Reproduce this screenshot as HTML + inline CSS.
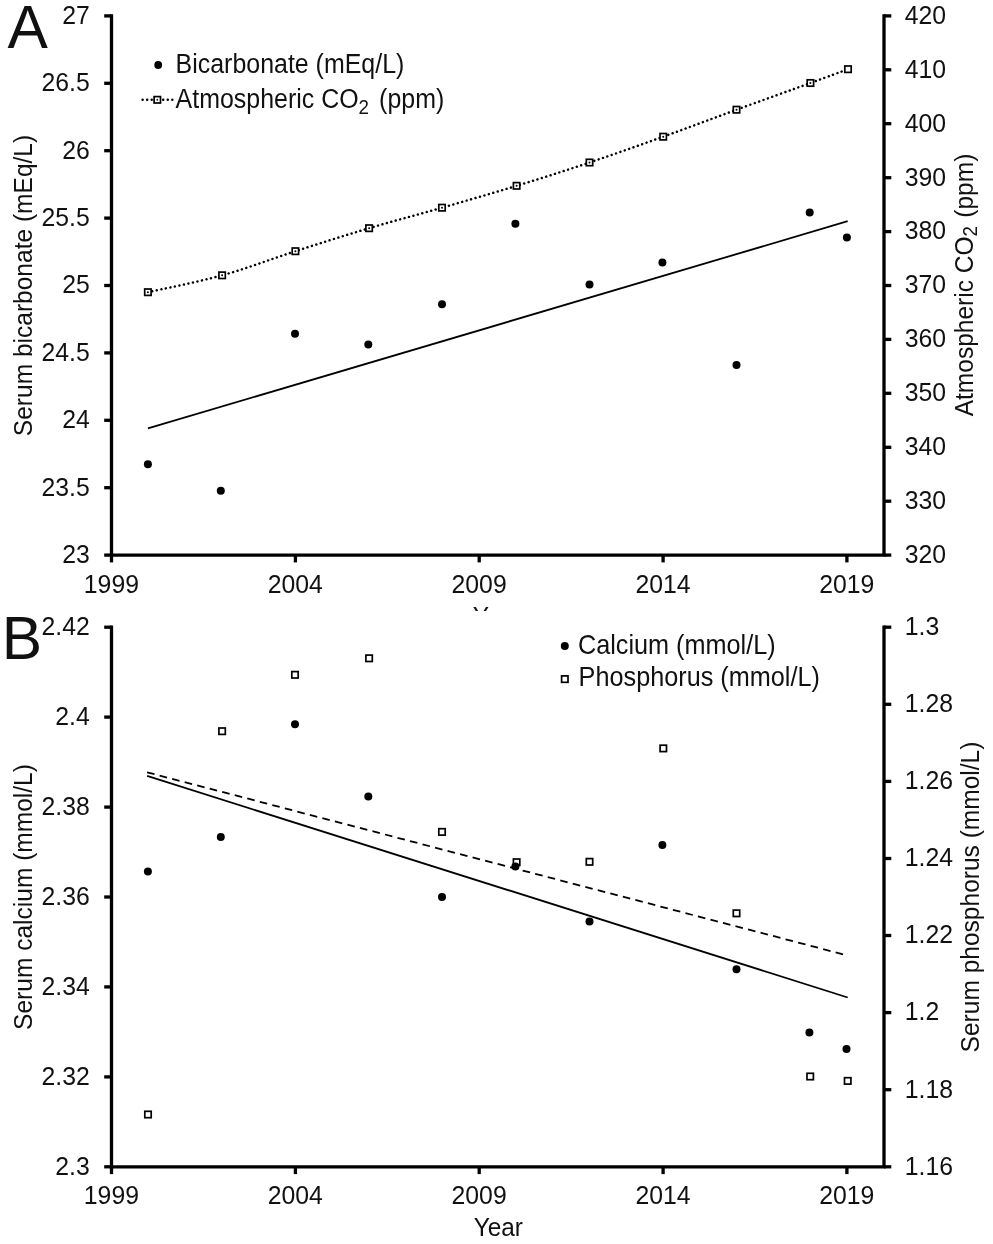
<!DOCTYPE html>
<html lang="en"><head><meta charset="utf-8"><title>Figure</title>
<style>html,body{margin:0;padding:0;background:#fff;}body{width:993px;height:1244px;overflow:hidden;}svg{display:block;}text{font-family:"Liberation Sans",Arial,sans-serif;fill:#111;}.tk{font-size:24.8px}.lg{font-size:24.95px}.tt{font-size:24.55px}.pl{font-size:60.5px}.lb{font-size:25.25px}.yr{font-size:24.4px}.e{text-anchor:end}.m{text-anchor:middle}.ax{stroke:#000;stroke-width:3.3;fill:none;stroke-linecap:butt}.sq{fill:#fff;stroke:#000;stroke-width:1.7}.dot{fill:#000}</style></head><body>
<svg width="993" height="1244" viewBox="0 0 993 1244">
<rect width="993" height="1244" fill="#fff"/>
<path class="ax" d="M111.5 14.2 V555.1 H884.0 V14.2"/>
<path class="ax" d="M104.2 15.9 H111.5"/>
<text class="tk e" transform="translate(89.8 23.7) scale(1 1.075)">27</text>
<path class="ax" d="M104.2 83.3 H111.5"/>
<text class="tk e" transform="translate(89.8 91.1) scale(1 1.075)">26.5</text>
<path class="ax" d="M104.2 150.7 H111.5"/>
<text class="tk e" transform="translate(89.8 158.5) scale(1 1.075)">26</text>
<path class="ax" d="M104.2 218.1 H111.5"/>
<text class="tk e" transform="translate(89.8 225.9) scale(1 1.075)">25.5</text>
<path class="ax" d="M104.2 285.5 H111.5"/>
<text class="tk e" transform="translate(89.8 293.3) scale(1 1.075)">25</text>
<path class="ax" d="M104.2 352.9 H111.5"/>
<text class="tk e" transform="translate(89.8 360.7) scale(1 1.075)">24.5</text>
<path class="ax" d="M104.2 420.3 H111.5"/>
<text class="tk e" transform="translate(89.8 428.1) scale(1 1.075)">24</text>
<path class="ax" d="M104.2 487.7 H111.5"/>
<text class="tk e" transform="translate(89.8 495.5) scale(1 1.075)">23.5</text>
<path class="ax" d="M104.2 555.1 H111.5"/>
<text class="tk e" transform="translate(89.8 562.9) scale(1 1.075)">23</text>
<path class="ax" d="M884.0 15.9 H891.3"/>
<text class="tk" transform="translate(904.8 23.7) scale(1 1.075)">420</text>
<path class="ax" d="M884.0 69.8 H891.3"/>
<text class="tk" transform="translate(904.8 77.6) scale(1 1.075)">410</text>
<path class="ax" d="M884.0 123.7 H891.3"/>
<text class="tk" transform="translate(904.8 131.5) scale(1 1.075)">400</text>
<path class="ax" d="M884.0 177.7 H891.3"/>
<text class="tk" transform="translate(904.8 185.5) scale(1 1.075)">390</text>
<path class="ax" d="M884.0 231.6 H891.3"/>
<text class="tk" transform="translate(904.8 239.4) scale(1 1.075)">380</text>
<path class="ax" d="M884.0 285.5 H891.3"/>
<text class="tk" transform="translate(904.8 293.3) scale(1 1.075)">370</text>
<path class="ax" d="M884.0 339.4 H891.3"/>
<text class="tk" transform="translate(904.8 347.2) scale(1 1.075)">360</text>
<path class="ax" d="M884.0 393.3 H891.3"/>
<text class="tk" transform="translate(904.8 401.1) scale(1 1.075)">350</text>
<path class="ax" d="M884.0 447.3 H891.3"/>
<text class="tk" transform="translate(904.8 455.1) scale(1 1.075)">340</text>
<path class="ax" d="M884.0 501.2 H891.3"/>
<text class="tk" transform="translate(904.8 509.0) scale(1 1.075)">330</text>
<path class="ax" d="M884.0 555.1 H891.3"/>
<text class="tk" transform="translate(904.8 562.9) scale(1 1.075)">320</text>
<path class="ax" d="M111.5 555.1 V562.4"/>
<text class="tk m" transform="translate(111.4 592.7) scale(1 1.075)">1999</text>
<path class="ax" d="M295.4 555.1 V562.4"/>
<text class="tk m" transform="translate(295.2 592.7) scale(1 1.075)">2004</text>
<path class="ax" d="M479.2 555.1 V562.4"/>
<text class="tk m" transform="translate(479.1 592.7) scale(1 1.075)">2009</text>
<path class="ax" d="M663.1 555.1 V562.4"/>
<text class="tk m" transform="translate(663.0 592.7) scale(1 1.075)">2014</text>
<path class="ax" d="M846.9 555.1 V562.4"/>
<text class="tk m" transform="translate(846.8 592.7) scale(1 1.075)">2019</text>
<path d="M147.9 292.2C160.3 289.4 197.5 282.1 222.1 275.3C246.7 268.5 270.9 259.1 295.4 251.2C319.9 243.3 344.7 235.4 369.1 228.2C393.5 220.9 417.4 214.8 442.0 207.7C466.6 200.6 492.0 193.3 516.6 185.8C541.2 178.3 565.1 170.7 589.5 162.5C613.9 154.3 638.7 145.5 663.2 136.7C687.7 127.9 712.0 118.7 736.5 109.7C761.0 100.8 791.8 89.8 810.4 83.0C829.0 76.2 841.7 71.5 848.0 69.2" fill="none" stroke="#000" stroke-width="2.5" stroke-linecap="round" stroke-dasharray="0.01 4.6"/>
<line x1="147.9" y1="428.4" x2="847.7" y2="221.2" stroke="#000" stroke-width="1.8"/>
<rect class="sq" x="144.7" y="289.0" width="6.4" height="6.4"/>
<circle cx="147.9" cy="292.2" r="1.0" class="dot"/>
<rect class="sq" x="218.9" y="272.1" width="6.4" height="6.4"/>
<circle cx="222.1" cy="275.3" r="1.0" class="dot"/>
<rect class="sq" x="292.2" y="248.0" width="6.4" height="6.4"/>
<circle cx="295.4" cy="251.2" r="1.0" class="dot"/>
<rect class="sq" x="365.9" y="225.0" width="6.4" height="6.4"/>
<circle cx="369.1" cy="228.2" r="1.0" class="dot"/>
<rect class="sq" x="438.8" y="204.5" width="6.4" height="6.4"/>
<circle cx="442.0" cy="207.7" r="1.0" class="dot"/>
<rect class="sq" x="513.4" y="182.6" width="6.4" height="6.4"/>
<circle cx="516.6" cy="185.8" r="1.0" class="dot"/>
<rect class="sq" x="586.3" y="159.3" width="6.4" height="6.4"/>
<circle cx="589.5" cy="162.5" r="1.0" class="dot"/>
<rect class="sq" x="660.0" y="133.5" width="6.4" height="6.4"/>
<circle cx="663.2" cy="136.7" r="1.0" class="dot"/>
<rect class="sq" x="733.3" y="106.5" width="6.4" height="6.4"/>
<circle cx="736.5" cy="109.7" r="1.0" class="dot"/>
<rect class="sq" x="807.2" y="79.8" width="6.4" height="6.4"/>
<circle cx="810.4" cy="83.0" r="1.0" class="dot"/>
<rect class="sq" x="844.8" y="66.0" width="6.4" height="6.4"/>
<circle class="dot" cx="147.9" cy="464.2" r="4"/>
<circle class="dot" cx="220.8" cy="490.8" r="4"/>
<circle class="dot" cx="295.0" cy="333.7" r="4"/>
<circle class="dot" cx="368.3" cy="344.6" r="4"/>
<circle class="dot" cx="442.0" cy="304.3" r="4"/>
<circle class="dot" cx="515.4" cy="223.7" r="4"/>
<circle class="dot" cx="589.5" cy="284.5" r="4"/>
<circle class="dot" cx="662.4" cy="262.4" r="4"/>
<circle class="dot" cx="736.5" cy="365.1" r="4"/>
<circle class="dot" cx="809.7" cy="212.5" r="4"/>
<circle class="dot" cx="846.9" cy="237.5" r="4"/>
<circle class="dot" cx="158.2" cy="65.0" r="3.9"/>
<text class="lg" transform="translate(175.6 72.8) scale(1 1.075)">Bicarbonate (mEq/L)</text>
<path d="M142.6 99.8H152.2M163.2 99.8H172.8" stroke="#000" stroke-width="2.5" stroke-linecap="round" stroke-dasharray="0.01 4.55" fill="none"/>
<rect class="sq" x="154.1" y="96.6" width="6.4" height="6.4"/><circle cx="157.3" cy="99.8" r="0.9" class="dot"/>
<text class="lg" transform="translate(175.6 107.6) scale(1 1.075)">Atmospheric CO<tspan font-size="18.8" dy="5.7">2</tspan><tspan dy="-5.7" dx="3.2"> (ppm)</tspan></text>
<text class="tt m" transform="translate(32.0 285.5) rotate(-90) scale(1 1.075)">Serum bicarbonate (mEq/L)</text>
<text class="tt m" transform="translate(972.7 285.0) rotate(-90) scale(1 1.075)">Atmospheric CO<tspan font-size="18.8" dy="4.4">2</tspan><tspan dy="-4.4" dx="1.4"> (ppm)</tspan></text>
<svg x="460" y="600" width="80" height="10.9" viewBox="0 0 80 10.9" overflow="hidden"><text class="yr m" transform="translate(37.3 24.6) scale(1 1.075)">Year</text></svg>
<text class="pl" transform="translate(7.5 48.4) scale(1 1.000)">A</text>
<text class="pl" transform="translate(1.7 658.7) scale(1 1.000)">B</text>
<path class="ax" d="M111.5 625.6 V1166.8 H884.0 V625.6"/>
<path class="ax" d="M104.2 627.2 H111.5"/>
<text class="tk e" transform="translate(89.8 635.0) scale(1 1.075)">2.42</text>
<path class="ax" d="M104.2 717.1 H111.5"/>
<text class="tk e" transform="translate(89.8 724.9) scale(1 1.075)">2.4</text>
<path class="ax" d="M104.2 807.1 H111.5"/>
<text class="tk e" transform="translate(89.8 814.9) scale(1 1.075)">2.38</text>
<path class="ax" d="M104.2 897.0 H111.5"/>
<text class="tk e" transform="translate(89.8 904.8) scale(1 1.075)">2.36</text>
<path class="ax" d="M104.2 986.9 H111.5"/>
<text class="tk e" transform="translate(89.8 994.7) scale(1 1.075)">2.34</text>
<path class="ax" d="M104.2 1076.9 H111.5"/>
<text class="tk e" transform="translate(89.8 1084.7) scale(1 1.075)">2.32</text>
<path class="ax" d="M104.2 1166.8 H111.5"/>
<text class="tk e" transform="translate(89.8 1174.6) scale(1 1.075)">2.3</text>
<path class="ax" d="M884.0 627.2 H891.3"/>
<text class="tk" transform="translate(904.8 635.0) scale(1 1.075)">1.3</text>
<path class="ax" d="M884.0 704.3 H891.3"/>
<text class="tk" transform="translate(904.8 712.1) scale(1 1.075)">1.28</text>
<path class="ax" d="M884.0 781.4 H891.3"/>
<text class="tk" transform="translate(904.8 789.2) scale(1 1.075)">1.26</text>
<path class="ax" d="M884.0 858.5 H891.3"/>
<text class="tk" transform="translate(904.8 866.3) scale(1 1.075)">1.24</text>
<path class="ax" d="M884.0 935.5 H891.3"/>
<text class="tk" transform="translate(904.8 943.3) scale(1 1.075)">1.22</text>
<path class="ax" d="M884.0 1012.6 H891.3"/>
<text class="tk" transform="translate(904.8 1020.4) scale(1 1.075)">1.2</text>
<path class="ax" d="M884.0 1089.7 H891.3"/>
<text class="tk" transform="translate(904.8 1097.5) scale(1 1.075)">1.18</text>
<path class="ax" d="M884.0 1166.8 H891.3"/>
<text class="tk" transform="translate(904.8 1174.6) scale(1 1.075)">1.16</text>
<path class="ax" d="M111.5 1166.8 V1174.1"/>
<text class="tk m" transform="translate(111.4 1204.4) scale(1 1.075)">1999</text>
<path class="ax" d="M295.4 1166.8 V1174.1"/>
<text class="tk m" transform="translate(295.2 1204.4) scale(1 1.075)">2004</text>
<path class="ax" d="M479.2 1166.8 V1174.1"/>
<text class="tk m" transform="translate(479.1 1204.4) scale(1 1.075)">2009</text>
<path class="ax" d="M663.1 1166.8 V1174.1"/>
<text class="tk m" transform="translate(663.0 1204.4) scale(1 1.075)">2014</text>
<path class="ax" d="M846.9 1166.8 V1174.1"/>
<text class="tk m" transform="translate(846.8 1204.4) scale(1 1.075)">2019</text>
<line x1="147.1" y1="775.9" x2="847.7" y2="997.5" stroke="#000" stroke-width="1.8"/>
<line x1="147.1" y1="772.3" x2="847.7" y2="955.5" stroke="#000" stroke-width="1.8" stroke-dasharray="7.64 5.3"/>
<rect class="sq" x="144.8" y="1111.3" width="6.4" height="6.4"/>
<rect class="sq" x="218.9" y="728.0" width="6.4" height="6.4"/>
<rect class="sq" x="291.8" y="671.6" width="6.4" height="6.4"/>
<rect class="sq" x="365.9" y="655.1" width="6.4" height="6.4"/>
<rect class="sq" x="438.8" y="828.7" width="6.4" height="6.4"/>
<rect class="sq" x="513.4" y="859.0" width="6.4" height="6.4"/>
<rect class="sq" x="586.3" y="858.6" width="6.4" height="6.4"/>
<rect class="sq" x="660.1" y="745.2" width="6.4" height="6.4"/>
<rect class="sq" x="733.3" y="910.1" width="6.4" height="6.4"/>
<rect class="sq" x="807.0" y="1073.3" width="6.4" height="6.4"/>
<rect class="sq" x="844.5" y="1077.7" width="6.4" height="6.4"/>
<circle class="dot" cx="147.9" cy="871.4" r="4"/>
<circle class="dot" cx="220.8" cy="837.1" r="4"/>
<circle class="dot" cx="295.0" cy="724.3" r="4"/>
<circle class="dot" cx="368.3" cy="796.4" r="4"/>
<circle class="dot" cx="442.0" cy="897.1" r="4"/>
<circle class="dot" cx="515.4" cy="866.6" r="4"/>
<circle class="dot" cx="589.5" cy="921.4" r="4"/>
<circle class="dot" cx="662.4" cy="844.9" r="4"/>
<circle class="dot" cx="736.5" cy="969.3" r="4"/>
<circle class="dot" cx="809.4" cy="1032.6" r="4"/>
<circle class="dot" cx="846.5" cy="1049.1" r="4"/>
<circle class="dot" cx="564.8" cy="645.9" r="4"/>
<text class="lb" transform="translate(577.9 654.1) scale(1 1.075)">Calcium (mmol/L)</text>
<rect class="sq" x="561.6" y="675.9" width="6.4" height="6.4"/>
<text class="lb" transform="translate(578.6 686.2) scale(1 1.075)">Phosphorus (mmol/L)</text>
<text class="tt m" transform="translate(32.2 897.0) rotate(-90) scale(1 1.075)">Serum calcium (mmol/L)</text>
<text class="tt m" transform="translate(978.5 897.0) rotate(-90) scale(1 1.075)">Serum phosphorus (mmol/L)</text>
<text class="yr m" transform="translate(498.3 1235.6) scale(1 1.075)">Year</text>
</svg></body></html>
